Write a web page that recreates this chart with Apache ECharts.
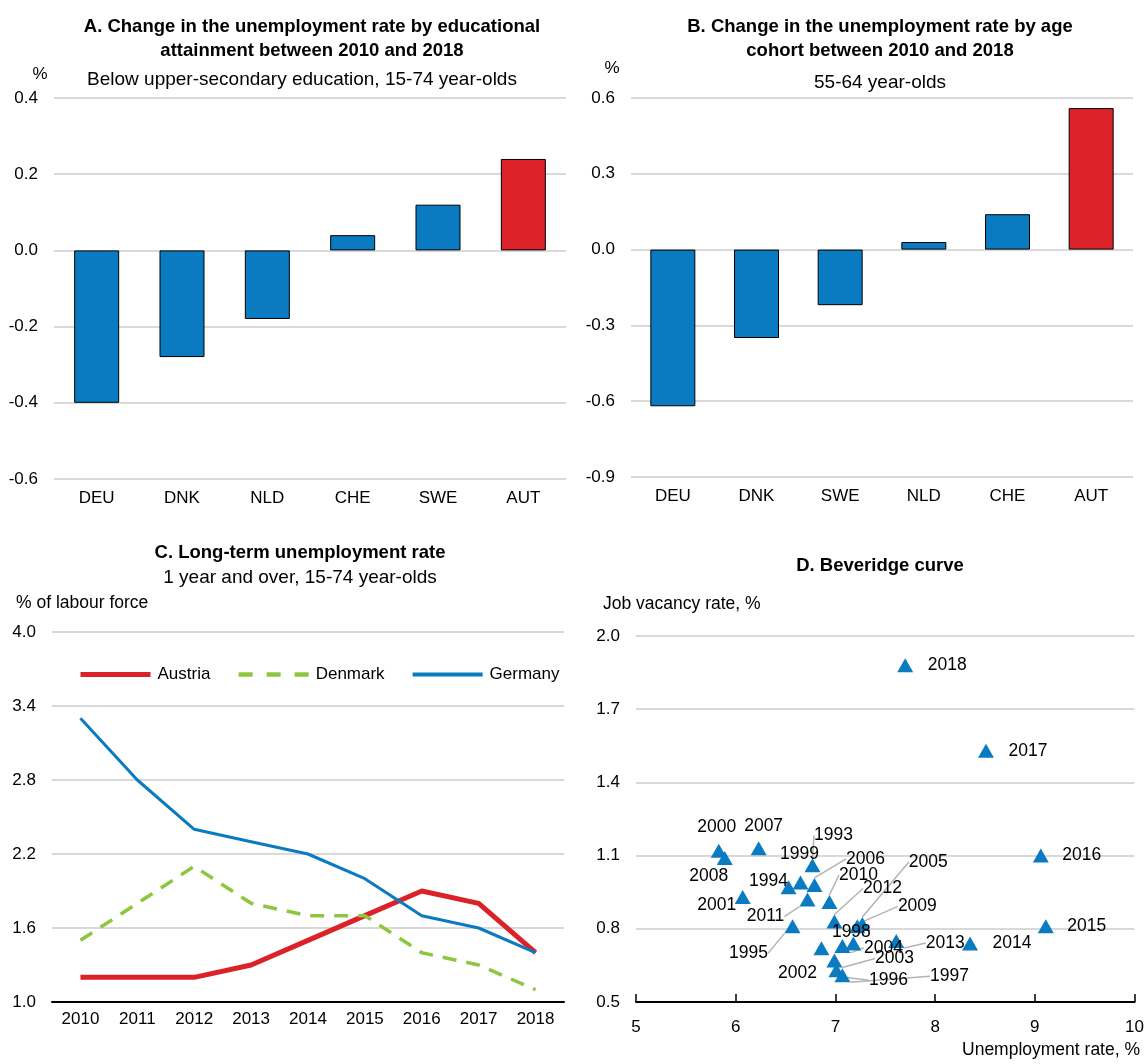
<!DOCTYPE html>
<html>
<head>
<meta charset="utf-8">
<title>Austria labour market</title>
<script src="https://cdn.jsdelivr.net/npm/echarts@6/dist/echarts.min.js"></script>
<style>
  html, body { margin: 0; padding: 0; background: #fff; }
  #chart { width: 1147px; height: 1064px; }
</style>
</head>
<body>
<div id="chart"></div>
<script>
// panel A: change in unemployment rate by education, 2010-2018
var catsA = ["DEU", "DNK", "NLD", "CHE", "SWE", "AUT"];
var valsA = [-0.40, -0.28, -0.18, 0.04, 0.12, 0.24];

// panel B: change by age cohort 55-64
var catsB = ["DEU", "DNK", "SWE", "NLD", "CHE", "AUT"];
var valsB = [-0.62, -0.35, -0.22, 0.03, 0.14, 0.56];

// panel C: long-term unemployment rate
var yearsC = ["2010", "2011", "2012", "2013", "2014", "2015", "2016", "2017", "2018"];
var austria = [1.2, 1.2, 1.2, 1.3, 1.5, 1.7, 1.9, 1.8, 1.4];
var denmark = [1.5, 1.8, 2.1, 1.8, 1.7, 1.7, 1.4, 1.3, 1.1];
var germany = [3.3, 2.8, 2.4, 2.3, 2.2, 2.0, 1.7, 1.6, 1.4];

// panel D: Beveridge curve
var yearsD = ["1993", "1994", "1995", "1996", "1997", "1998", "1999", "2000", "2001", "2002",
  "2003", "2004", "2005", "2006", "2007", "2008", "2009", "2010", "2011", "2012",
  "2013", "2014", "2015", "2016", "2017", "2018"];
var unempD = [6.77, 6.53, 6.57, 7.01, 7.07, 7.18, 6.65, 5.83, 6.07, 6.86,
  6.99, 7.07, 7.27, 6.79, 6.23, 5.89, 7.22, 6.94, 6.72, 6.99,
  7.61, 8.35, 9.11, 9.06, 8.51, 7.70];
var vacD = [1.06, 0.97, 0.81, 0.63, 0.61, 0.74, 0.99, 1.12, 0.93, 0.72,
  0.67, 0.73, 0.82, 0.98, 1.13, 1.09, 0.81, 0.91, 0.92, 0.83,
  0.75, 0.74, 0.81, 1.10, 1.53, 1.88];

// where each year label sits relative to its marker (px), and which get a leader line
var labelOffsets = {
  "1993": [21, -30], "1994": [-20, -6], "1995": [-44, 27], "1996": [52, 10], "1997": [107, 1],
  "1998": [-2, -11], "1999": [-1, -28], "2000": [-2, -24], "2001": [-26, 8], "2002": [-24, 25],
  "2003": [60, -2], "2004": [41, 2], "2005": [66, -62], "2006": [51, -26], "2007": [5, -22],
  "2008": [-16, 18], "2009": [60, -20], "2010": [29, -27], "2011": [-42, 17], "2012": [48, -33],
  "2013": [49, 2], "2014": [42, 0], "2015": [41, 0], "2016": [41, 0], "2017": [42, 0], "2018": [42, 0]
};
var lineYears = ["1993", "2006", "2010", "2012", "2005", "2009", "2011", "1995", "2004",
  "2003", "1996", "1997", "2013"];

var FONT = "'Liberation Sans', Arial, sans-serif";
var BLUE = "#0a7bc1";
var RED = "#dc2229";
var GREEN = "#8dc63f";
var GRID = "#d9d9d9";

var chart = echarts.init(document.getElementById("chart"));

function fmt1(v) {
  return (Math.round(v * 10) / 10).toFixed(1);
}

function barData(cats, vals) {
  return vals.map(function (v, i) {
    return { value: v, itemStyle: { color: cats[i] === "AUT" ? RED : BLUE } };
  });
}

function valueAxis(gridIndex, min, max, interval) {
  return {
    type: "value",
    gridIndex: gridIndex,
    min: min,
    max: max,
    interval: interval,
    axisLine: { show: false },
    axisTick: { show: false },
    axisLabel: { formatter: fmt1, fontSize: 17, color: "#000", fontFamily: FONT, margin: 16 },
    splitLine: { lineStyle: { color: GRID, width: 2 } }
  };
}

function catAxis(gridIndex, cats) {
  return {
    type: "category",
    gridIndex: gridIndex,
    data: cats,
    position: "bottom",
    axisLine: { show: false },
    axisTick: { show: false },
    axisLabel: { fontSize: 17, color: "#000", fontFamily: FONT, margin: 11 }
  };
}

function txt(text, x, y, opts) {
  opts = opts || {};
  return {
    type: "text",
    x: x,
    y: y,
    style: {
      text: text,
      fill: "#000",
      font: (opts.bold ? "bold " : "") + (opts.size || 18) + "px " + FONT,
      textAlign: opts.align || "center",
      textVerticalAlign: "middle"
    }
  };
}

var scatterData = yearsD.map(function (y, i) {
  return {
    name: y,
    value: [unempD[i], vacD[i]],
    labelLine: { show: lineYears.indexOf(y) >= 0 }
  };
});

var option = {
  animation: false,
  textStyle: { fontFamily: FONT },
  grid: [
    { left: 54, top: 98, width: 512, height: 381 },
    { left: 631, top: 98, width: 502, height: 379 },
    { left: 52, top: 632, width: 512, height: 370 },
    { left: 636, top: 636, width: 500, height: 366 }
  ],
  xAxis: [
    catAxis(0, catsA),
    catAxis(1, catsB),
    {
      type: "category",
      gridIndex: 2,
      data: yearsC,
      boundaryGap: true,
      axisLine: { lineStyle: { color: "#000", width: 2 } },
      axisTick: { inside: true, length: 8, interval: 0, lineStyle: { color: "#000", width: 1.5 } },
      axisLabel: { fontSize: 17, color: "#000", fontFamily: FONT, margin: 9 }
    },
    {
      type: "value",
      gridIndex: 3,
      min: 5,
      max: 10,
      interval: 1,
      splitLine: { show: false },
      axisLine: { lineStyle: { color: "#000", width: 2 } },
      axisTick: { inside: true, length: 8, lineStyle: { color: "#000", width: 1.5 } },
      axisLabel: { fontSize: 17, color: "#000", fontFamily: FONT, margin: 17 }
    }
  ],
  yAxis: [
    valueAxis(0, -0.6, 0.4, 0.2),
    valueAxis(1, -0.9, 0.6, 0.3),
    valueAxis(2, 1.0, 4.0, 0.6),
    valueAxis(3, 0.5, 2.0, 0.3)
  ],
  legend: {
    left: 73,
    top: 661,
    itemWidth: 70,
    itemHeight: 14,
    itemGap: 26,
    itemStyle: { opacity: 0, borderWidth: 0 },
    textStyle: { fontSize: 17, color: "#000", fontFamily: FONT, padding: [0, 0, 0, 2] },
    data: [
      { name: "Austria", lineStyle: { width: 5 } },
      { name: "Denmark", lineStyle: { width: 4.5, type: [14, 14] } },
      { name: "Germany", lineStyle: { width: 4 } }
    ]
  },
  series: [
    {
      type: "bar",
      xAxisIndex: 0,
      yAxisIndex: 0,
      barWidth: 45,
      data: barData(catsA, valsA),
      itemStyle: { borderColor: "#000", borderWidth: 1 }
    },
    {
      type: "bar",
      xAxisIndex: 1,
      yAxisIndex: 1,
      barWidth: 45,
      data: barData(catsB, valsB),
      itemStyle: { borderColor: "#000", borderWidth: 1 }
    },
    {
      name: "Austria",
      type: "line",
      xAxisIndex: 2,
      yAxisIndex: 2,
      symbol: "none",
      data: austria,
      color: RED,
      lineStyle: { color: RED, width: 5 }
    },
    {
      name: "Denmark",
      type: "line",
      xAxisIndex: 2,
      yAxisIndex: 2,
      symbol: "none",
      data: denmark,
      color: GREEN,
      lineStyle: { color: GREEN, width: 3.5, type: [14, 10] }
    },
    {
      name: "Germany",
      type: "line",
      xAxisIndex: 2,
      yAxisIndex: 2,
      symbol: "none",
      data: germany,
      color: BLUE,
      lineStyle: { color: BLUE, width: 3 }
    },
    {
      type: "scatter",
      xAxisIndex: 3,
      yAxisIndex: 3,
      symbol: "triangle",
      symbolSize: [16, 14],
      itemStyle: { color: BLUE, opacity: 1 },
      data: scatterData,
      label: {
        show: true,
        position: "inside",
        formatter: "{b}",
        color: "#000",
        fontSize: 17.5,
        fontFamily: FONT
      },
      labelLine: { show: false, lineStyle: { color: "#b3b3b3", width: 1.5 } },
      labelLayout: function (p) {
        var o = labelOffsets[yearsD[p.dataIndex]];
        return { dx: o[0], dy: o[1] };
      }
    }
  ],
  graphic: [
    txt("A. Change in the unemployment rate by educational", 312, 27, { bold: true, size: 18.5 }),
    txt("attainment between 2010 and 2018", 312, 51, { bold: true, size: 18.5 }),
    txt("Below upper-secondary education, 15-74 year-olds", 302, 80, { size: 19 }),
    txt("%", 40, 74, { size: 17 }),
    txt("B. Change in the unemployment rate by age", 880, 27, { bold: true, size: 18.5 }),
    txt("cohort between 2010 and 2018", 880, 51, { bold: true, size: 18.5 }),
    txt("55-64 year-olds", 880, 83, { size: 19 }),
    txt("%", 612, 68, { size: 17 }),
    txt("C. Long-term unemployment rate", 300, 553, { bold: true, size: 18.5 }),
    txt("1 year and over, 15-74 year-olds", 300, 578, { size: 19 }),
    txt("% of labour force", 16, 603, { size: 17.5, align: "left" }),
    txt("D. Beveridge curve", 880, 566, { bold: true, size: 18.5 }),
    txt("Job vacancy rate, %", 603, 604, { size: 17.5, align: "left" }),
    txt("Unemployment rate, %", 1140, 1050, { size: 17.5, align: "right" })
  ]
};

chart.setOption(option);
</script>
</body>
</html>
